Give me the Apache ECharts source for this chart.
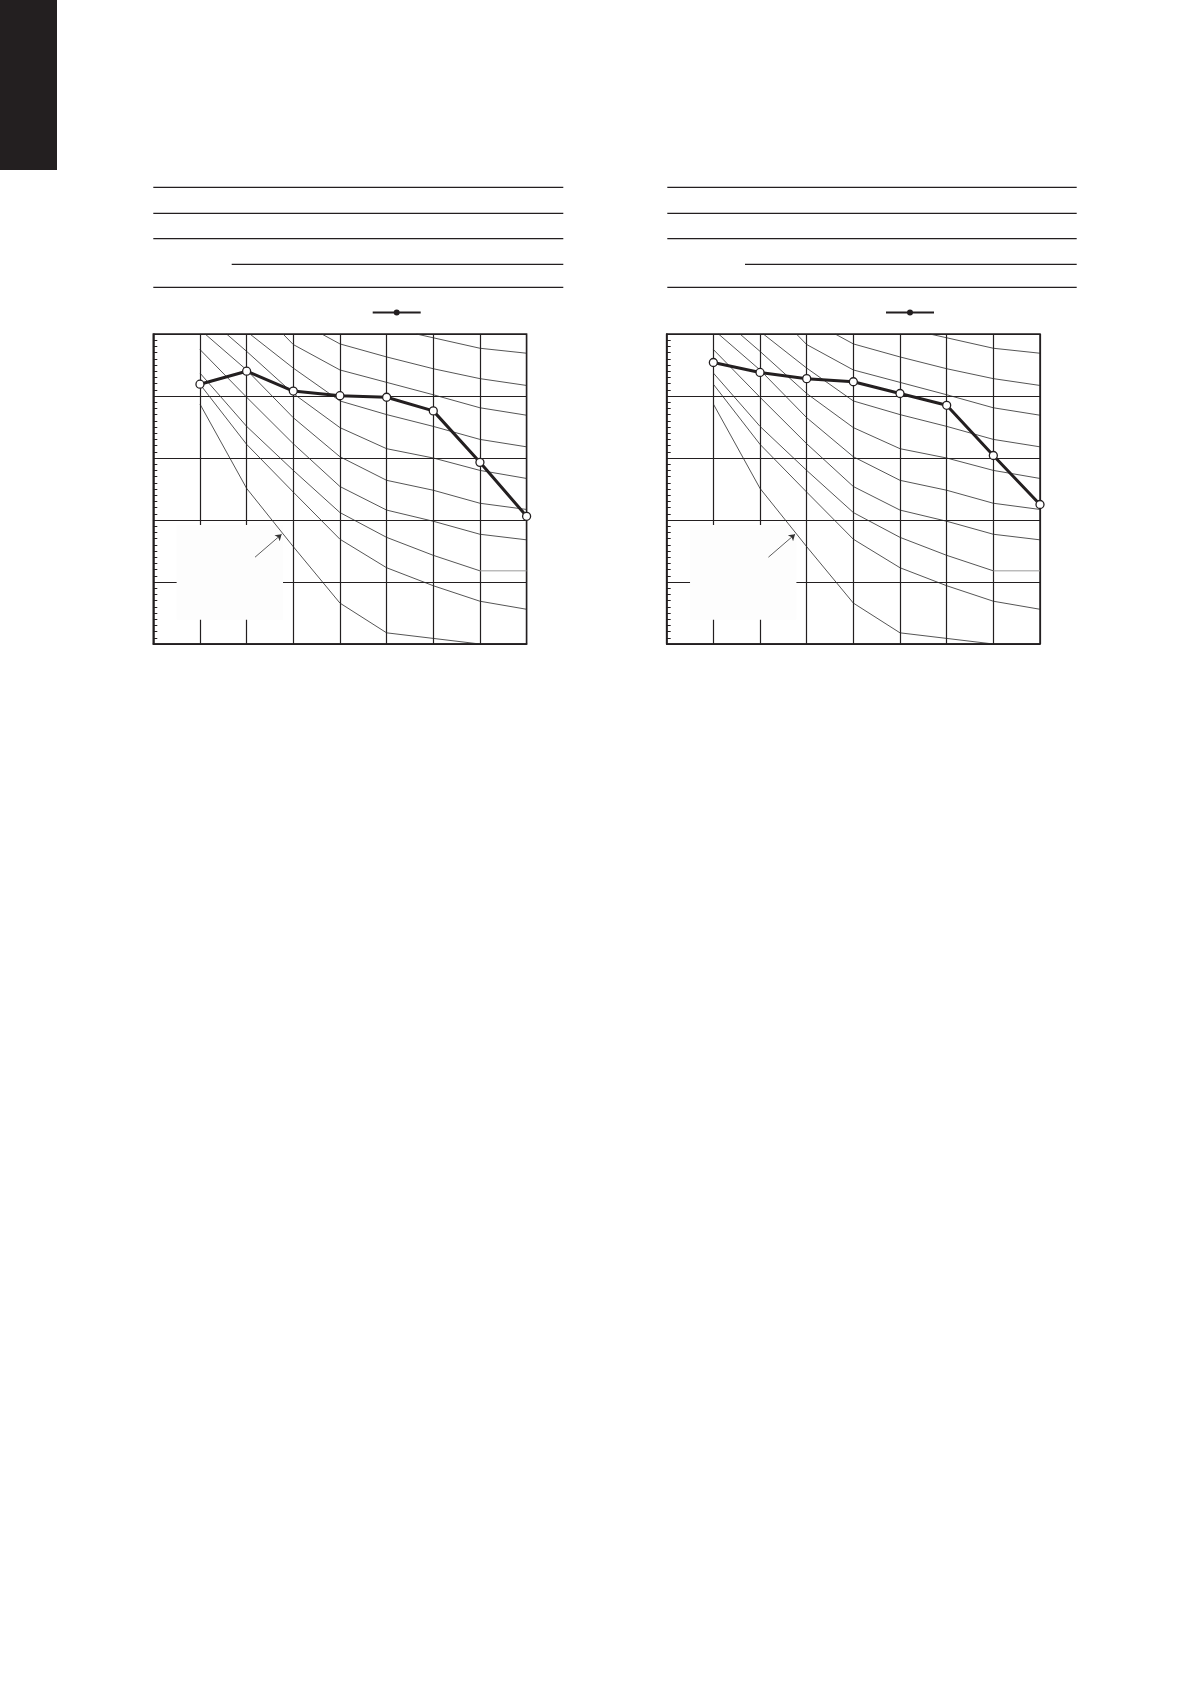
<!DOCTYPE html>
<html>
<head>
<meta charset="utf-8">
<script src="https://cdn.jsdelivr.net/npm/echarts@6/dist/echarts.min.js"></script>
<style>
html,body{margin:0;padding:0;background:#fff;}
#c{width:1191px;height:1684px;}
</style>
</head>
<body>
<div id="c"></div>
<script>
// ---- data ----
const xValues = [1, 2, 3, 4, 5, 6, 7, 8];
const leftValues = [41.9, 44.0, 40.8, 40.05, 39.8, 37.6, 29.3, 20.6];
const rightValues = [45.4, 43.8, 42.8, 42.3, 40.4, 38.5, 30.4, 22.5];

const curveA  = [[1, 38.7], [2, 25.1], [3, 15.7], [4, 6.6], [5, 1.8], [6, 0.9], [7, 0]];
const curveA2 = [[1, 41.9], [2, 32.2], [3, 24.5], [4, 16.9], [5, 12.3], [6, 9.4], [7, 6.9], [8, 5.6]];
const curveB  = [[1, 43.7], [2, 35.1], [3, 28.0], [4, 21.2], [5, 17.2], [6, 14.3], [7, 11.8]];
const curveBTail = [[7, 11.8], [8, 11.8]];
const curveC  = [[1, 47.5], [2, 39.8], [3, 32.3], [4, 25.4], [5, 21.6], [6, 19.8], [7, 17.7], [8, 16.8]];
const curveD  = [[1.11, 50], [2, 44.2], [3, 36.5], [4, 30.2], [5, 26.4], [6, 24.8], [7, 22.7], [8, 21.7]];
const curveE  = [[1.57, 50], [2, 47.2], [3, 40.4], [4, 34.9], [5, 31.5], [6, 30.0], [7, 28.0], [8, 26.7]];
const curveF  = [[2.07, 50], [3, 44.5], [4, 39.2], [5, 37.0], [6, 35.1], [7, 33.0], [8, 31.8]];
const curveG  = [[2.78, 50], [3, 48.3], [4, 44.2], [5, 42.2], [6, 40.2], [7, 38.1], [8, 36.9]];
const curveH  = [[3.61, 50], [4, 48.4], [5, 46.3], [6, 44.4], [7, 42.8], [8, 41.7]];
const curveI  = [[5.64, 50], [7, 47.7], [8, 46.9]];
const arrowPts = [[2.18, 14.0], [2.75, 17.7]];

const curves = [curveA, curveA2, curveB, curveC, curveD, curveE, curveF, curveG, curveH, curveI];

// ---- styling / layout ----
const INK = '#231f20';
const grids = [
  {left: 153.3, top: 334, width: 373.3, height: 310},
  {left: 666.7, top: 334, width: 373.3, height: 310}
];

const chart = echarts.init(document.getElementById('c'), null, {renderer: 'canvas'});

function xAx(i) {
  return {
    type: 'value', gridIndex: i, min: 0, max: 8, interval: 1,
    axisLabel: {show: false}, axisTick: {show: false},
    axisLine: {show: true, onZero: false, lineStyle: {color: INK, width: 1.5}},
    splitLine: {show: true, lineStyle: {color: INK, width: 1.2}}
  };
}
function yAx(i) {
  return {
    type: 'value', gridIndex: i, min: 0, max: 50, interval: 10,
    axisLabel: {show: false},
    axisTick: {show: false, inside: true, length: 4},
    minorTick: {show: true, splitNumber: 10, length: 4, lineStyle: {color: INK, width: 1}},
    axisLine: {show: true, onZero: false, lineStyle: {color: INK, width: 1.5}},
    splitLine: {show: true, lineStyle: {color: INK, width: 1.2}}
  };
}

const series = [];
[0, 1].forEach(function (g) {
  curves.forEach(function (c) {
    series.push({
      type: 'line', xAxisIndex: g, yAxisIndex: g, data: c,
      showSymbol: false, symbol: 'none', silent: true, z: 2,
      lineStyle: {color: '#2a2a2a', width: 0.8}
    });
  });
  series.push({
    type: 'line', xAxisIndex: g, yAxisIndex: g, data: curveBTail,
    showSymbol: false, symbol: 'none', silent: true, z: 2,
    lineStyle: {color: '#9a9a9a', width: 1}
  });
  series.push({
    type: 'lines', coordinateSystem: 'cartesian2d', xAxisIndex: g, yAxisIndex: g,
    data: [{coords: arrowPts}],
    symbol: ['none', 'arrow'], symbolSize: 6, silent: true, z: 3,
    lineStyle: {color: '#333', width: 0.8, opacity: 1}
  });
  const vals = g === 0 ? leftValues : rightValues;
  series.push({
    name: g === 0 ? 'left' : 'right',
    type: 'line', xAxisIndex: g, yAxisIndex: g,
    data: xValues.map(function (x, i) { return [x, vals[i]]; }),
    symbol: 'circle', symbolSize: 8, showSymbol: true, z: 5,
    lineStyle: {color: INK, width: 3},
    itemStyle: {color: '#fff', borderColor: INK, borderWidth: 1.3}
  });
});

// header rules
function headerRules(x0, x1, xShort) {
  const ys = [187.3, 213.3, 238.7, 287.3];
  const els = ys.map(function (y) {
    return {type: 'line', shape: {x1: x0, y1: y, x2: x1, y2: y}, style: {stroke: INK, lineWidth: 1.3}};
  });
  els.push({type: 'line', shape: {x1: xShort, y1: 264.3, x2: x1, y2: 264.3}, style: {stroke: INK, lineWidth: 1.3}});
  return els;
}

const baseGraphics = [
  {type: 'rect', shape: {x: 0, y: 0, width: 57, height: 170}, style: {fill: INK}}
].concat(headerRules(153.3, 563.3, 231.7)).concat(headerRules(667.3, 1076.7, 745));

function legendFor(name, x) {
  return {data: [name], left: x, top: 309.5, padding: 0, itemWidth: 48, itemHeight: 5, itemGap: 0,
    formatter: function () { return ''; }, textStyle: {fontSize: 1},
    itemStyle: {color: INK, borderColor: INK}, selectedMode: false};
}

chart.setOption({
  animation: false,
  backgroundColor: '#fff',
  grid: grids.map(function (g) {
    return Object.assign({show: true, borderColor: INK, borderWidth: 1.5, backgroundColor: 'transparent'}, g);
  }),
  xAxis: [xAx(0), xAx(1)],
  yAxis: [yAx(0), yAx(1)],
  legend: [legendFor('left', 371.7), legendFor('right', 885)],
  series: series,
  graphic: baseGraphics
});

// white legend-box areas inside the plots, placed in data units
const boxCorners = [[0.5, 19.2], [2.78, 3.9]];
const boxes = [0, 1].map(function (g) {
  const p0 = chart.convertToPixel({gridIndex: g}, boxCorners[0]);
  const p1 = chart.convertToPixel({gridIndex: g}, boxCorners[1]);
  return {type: 'rect', z: 1,
    shape: {x: p0[0], y: p0[1], width: p1[0] - p0[0], height: p1[1] - p0[1]},
    style: {fill: '#fdfdfd'}};
});
chart.setOption({graphic: baseGraphics.concat(boxes)}, {replaceMerge: ['graphic']});
</script>
</body>
</html>
